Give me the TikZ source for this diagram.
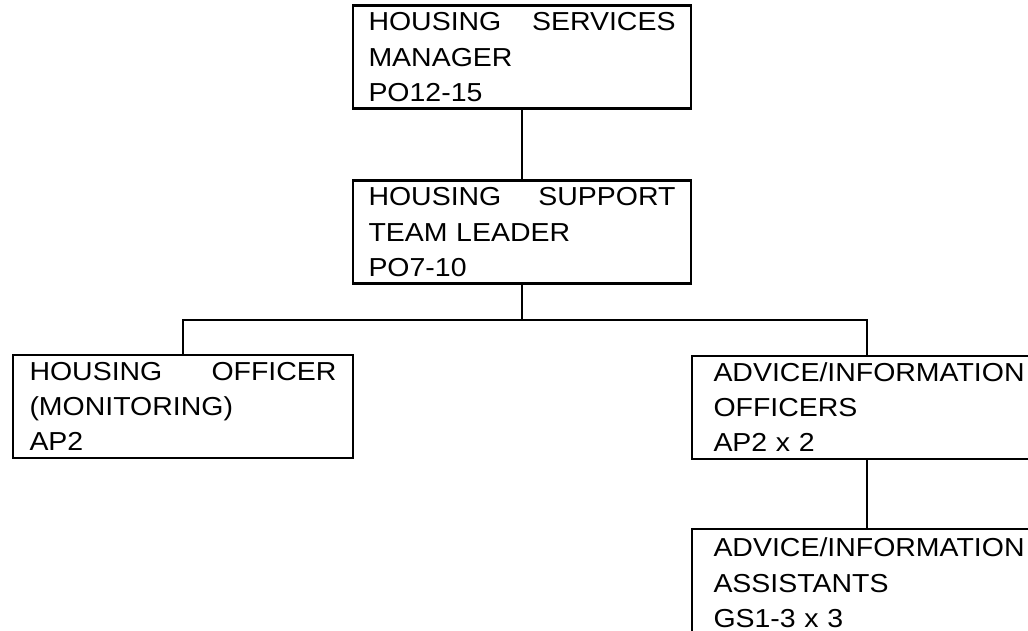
\documentclass[tikz,border=0pt]{standalone}
\usepackage{fontspec}
\setmainfont{Liberation Sans}[FakeStretch=1.095]
\begin{document}
\begin{tikzpicture}[x=1pt,y=-1pt,
  line width=2.5pt, line join=miter,
  postbox/.style={draw=black, rectangle, minimum height=103pt, inner xsep=0pt, inner ysep=0pt,
    text width=307pt, align=left, text height=18.7pt, text depth=71pt,
    font=\fontsize{26}{35.3}\selectfont}]
\useasboundingbox (0,0) rectangle (1028,631);
\clip (0,0) rectangle (1028,631);
\node[postbox, minimum width=338pt] (b1) at (522,57) {HOUSING\hfill SERVICES\\MANAGER\\PO12-15};
\node[postbox, minimum width=338pt] (b2) at (522,232) {HOUSING\hfill SUPPORT\\TEAM LEADER\\PO7-10};
\node[postbox, minimum width=340pt] (b3) at (183,406.5) {HOUSING\hfill OFFICER\\(MONITORING)\\AP2};
\node[postbox, minimum width=350pt] (b4) at (867,407.5) {ADVICE/INFORMATION\\OFFICERS\\AP2 x 2};
\node[postbox, minimum width=350pt, minimum height=108pt] (b5) at (867,583) {ADVICE/INFORMATION\\ASSISTANTS\\GS1-3 x 3};
\coordinate (bus) at (522,320);
\draw (b1.south) -- (b2.north);
\draw (b2.south) -- (bus);
\draw (b3.north) |- (bus) -| (b4.north);
\draw (b4.south) -- (b5.north);
\end{tikzpicture}
\end{document}
